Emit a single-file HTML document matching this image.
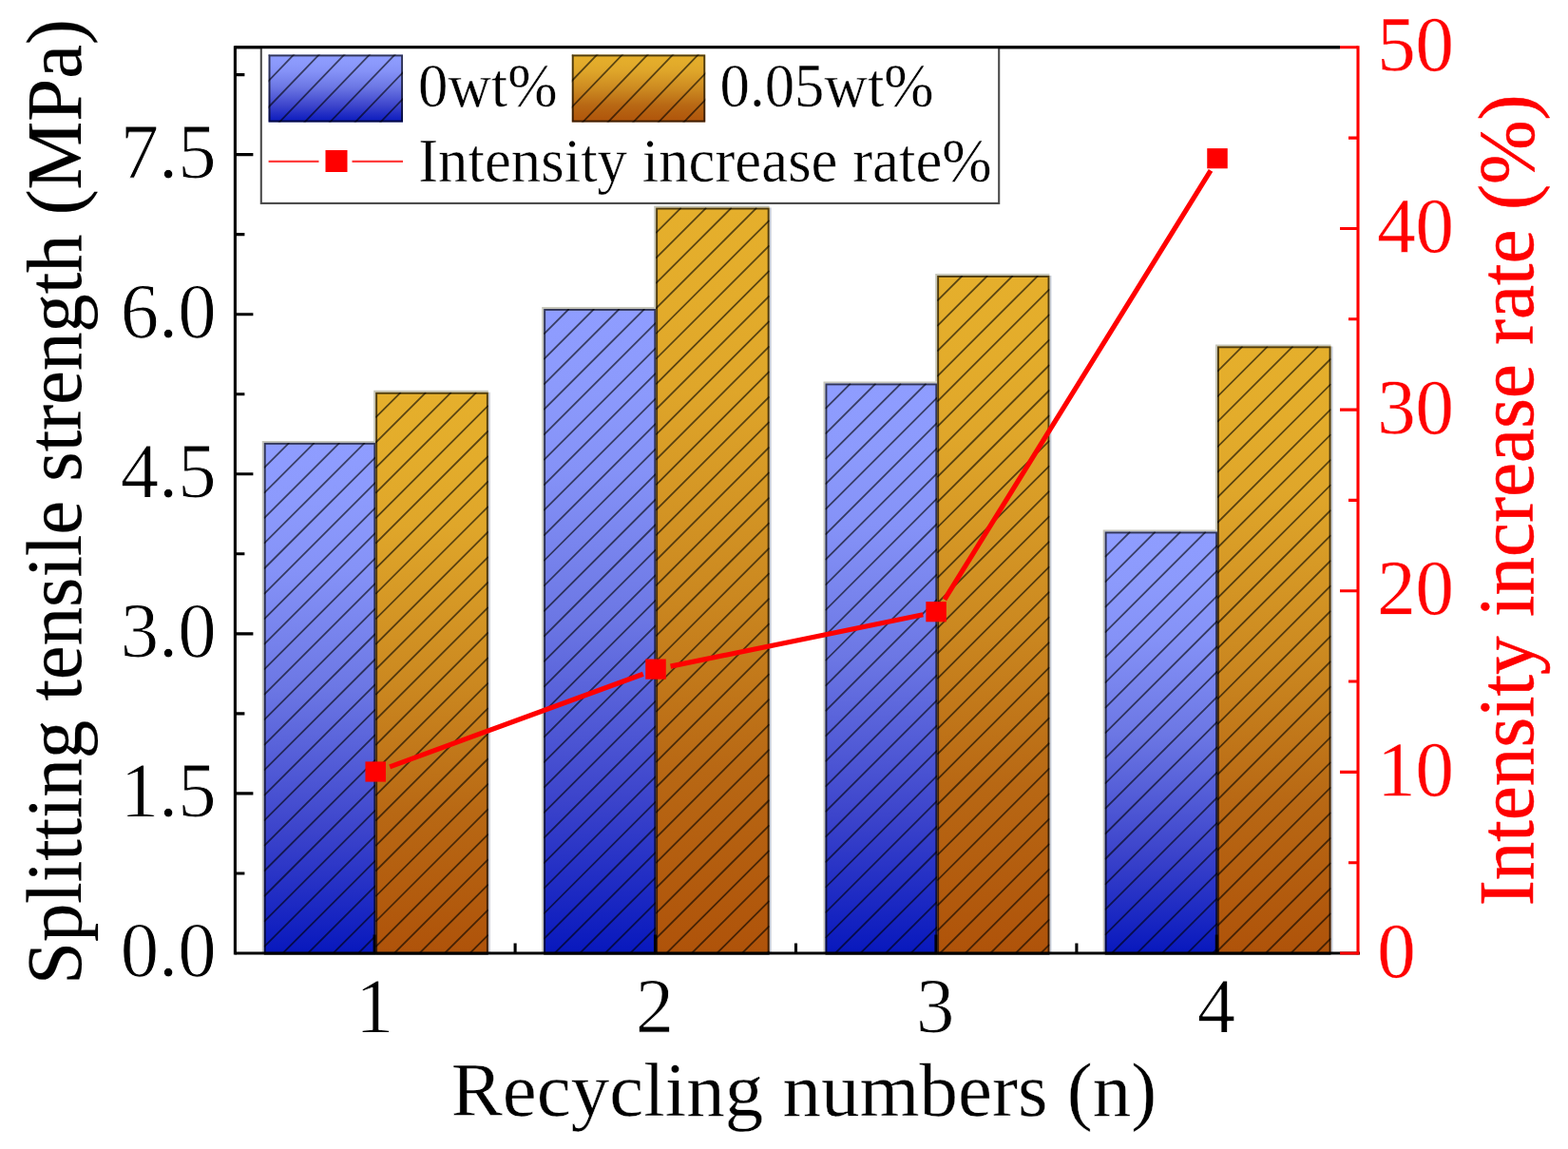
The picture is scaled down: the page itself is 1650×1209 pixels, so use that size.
<!DOCTYPE html>
<html lang="en"><head><meta charset="utf-8">
<title>Splitting tensile strength vs recycling numbers</title>
<style>
html,body{margin:0;padding:0;background:#fff;}
body{width:1650px;height:1209px;overflow:hidden;}
svg{display:block;}
text{font-family:'Liberation Serif', serif;stroke:#fff;stroke-width:0.85px;stroke-linejoin:round;}
text.r{fill:#ff0000;stroke-width:0.35px;}
text.t{stroke:#000;stroke-width:0.2px;}
text.rt{fill:#ff0000;stroke:#ff0000;stroke-width:0.5px;}
text.l{stroke-width:0.45px;}
text.x{stroke-width:0.4px;}
</style></head><body>
<svg width="1650" height="1209" viewBox="0 0 1650 1209">
<defs>
<linearGradient id="gb" x1="0" y1="0" x2="0" y2="1"><stop offset="0" stop-color="rgb(143,157,255)"/><stop offset="0.12" stop-color="rgb(140,154,252)"/><stop offset="0.25" stop-color="rgb(133,146,247)"/><stop offset="0.48" stop-color="rgb(108,119,228)"/><stop offset="0.76" stop-color="rgb(60,68,203)"/><stop offset="1" stop-color="rgb(8,24,189)"/></linearGradient>
<linearGradient id="go" x1="0" y1="0" x2="0" y2="1"><stop offset="0" stop-color="rgb(229,175,44)"/><stop offset="0.12" stop-color="rgb(227,172,43)"/><stop offset="0.24" stop-color="rgb(223,166,42)"/><stop offset="0.52" stop-color="rgb(203,136,32)"/><stop offset="0.75" stop-color="rgb(184,104,20)"/><stop offset="1" stop-color="rgb(175,83,10)"/></linearGradient>
</defs>
<rect x="0" y="0" width="1650" height="1209" fill="#ffffff"/>
<g id="bars">
<path d="M276.8 1003L276.8 464.9L395.2 464.9" fill="none" stroke="rgb(198,198,186)" stroke-width="2"/>
<rect x="277.8" y="465.9" width="117.4" height="537.1" fill="url(#gb)"/>
<clipPath id="c1"><rect x="277.8" y="465.9" width="117.4" height="537.1"/></clipPath>
<path d="M277.8 492.42L304.32 465.9M277.8 518.94L330.84 465.9M277.8 545.46L357.36 465.9M277.8 571.98L383.88 465.9M277.8 598.5L395.2 481.1M277.8 625.02L395.2 507.62M277.8 651.54L395.2 534.14M277.8 678.06L395.2 560.66M277.8 704.58L395.2 587.18M277.8 731.1L395.2 613.7M277.8 757.62L395.2 640.22M277.8 784.14L395.2 666.74M277.8 810.66L395.2 693.26M277.8 837.18L395.2 719.78M277.8 863.7L395.2 746.3M277.8 890.22L395.2 772.82M277.8 916.74L395.2 799.34M277.8 943.26L395.2 825.86M277.8 969.78L395.2 852.38M277.8 996.3L395.2 878.9M297.62 1003L395.2 905.42M324.14 1003L395.2 931.94M350.66 1003L395.2 958.46M377.18 1003L395.2 984.98" clip-path="url(#c1)" stroke="#000" stroke-opacity="0.6" stroke-width="1.8" fill="none"/>
<rect x="278.75" y="466.85" width="115.5" height="537.1" fill="none" stroke="#000" stroke-opacity="0.66" stroke-width="1.9"/>
<path d="M394.2 463.9L394.2 411.8L513.8 411.8" fill="none" stroke="rgb(198,198,186)" stroke-width="2"/>
<path d="M514.8 412.8L514.8 1003" fill="none" stroke="rgb(196,202,214)" stroke-width="2"/>
<rect x="395.2" y="412.8" width="118.6" height="590.2" fill="url(#go)"/>
<clipPath id="c2"><rect x="395.2" y="412.8" width="118.6" height="590.2"/></clipPath>
<path d="M395.2 439.32L421.72 412.8M395.2 465.84L448.24 412.8M395.2 492.36L474.76 412.8M395.2 518.88L501.28 412.8M395.2 545.4L513.8 426.8M395.2 571.92L513.8 453.32M395.2 598.44L513.8 479.84M395.2 624.96L513.8 506.36M395.2 651.48L513.8 532.88M395.2 678L513.8 559.4M395.2 704.52L513.8 585.92M395.2 731.04L513.8 612.44M395.2 757.56L513.8 638.96M395.2 784.08L513.8 665.48M395.2 810.6L513.8 692M395.2 837.12L513.8 718.52M395.2 863.64L513.8 745.04M395.2 890.16L513.8 771.56M395.2 916.68L513.8 798.08M395.2 943.2L513.8 824.6M395.2 969.72L513.8 851.12M395.2 996.24L513.8 877.64M414.96 1003L513.8 904.16M441.48 1003L513.8 930.68M468 1003L513.8 957.2M494.52 1003L513.8 983.72" clip-path="url(#c2)" stroke="#000" stroke-opacity="0.6" stroke-width="1.8" fill="none"/>
<rect x="396.15" y="413.75" width="116.7" height="590.2" fill="none" stroke="#000" stroke-opacity="0.66" stroke-width="1.9"/>
<path d="M571.2 1003L571.2 324L690.2 324" fill="none" stroke="rgb(198,198,186)" stroke-width="2"/>
<rect x="572.2" y="325" width="118" height="678" fill="url(#gb)"/>
<clipPath id="c3"><rect x="572.2" y="325" width="118" height="678"/></clipPath>
<path d="M572.2 351.52L598.72 325M572.2 378.04L625.24 325M572.2 404.56L651.76 325M572.2 431.08L678.28 325M572.2 457.6L690.2 339.6M572.2 484.12L690.2 366.12M572.2 510.64L690.2 392.64M572.2 537.16L690.2 419.16M572.2 563.68L690.2 445.68M572.2 590.2L690.2 472.2M572.2 616.72L690.2 498.72M572.2 643.24L690.2 525.24M572.2 669.76L690.2 551.76M572.2 696.28L690.2 578.28M572.2 722.8L690.2 604.8M572.2 749.32L690.2 631.32M572.2 775.84L690.2 657.84M572.2 802.36L690.2 684.36M572.2 828.88L690.2 710.88M572.2 855.4L690.2 737.4M572.2 881.92L690.2 763.92M572.2 908.44L690.2 790.44M572.2 934.96L690.2 816.96M572.2 961.48L690.2 843.48M572.2 988L690.2 870M583.72 1003L690.2 896.52M610.24 1003L690.2 923.04M636.76 1003L690.2 949.56M663.28 1003L690.2 976.08" clip-path="url(#c3)" stroke="#000" stroke-opacity="0.6" stroke-width="1.8" fill="none"/>
<rect x="573.15" y="325.95" width="116.1" height="678" fill="none" stroke="#000" stroke-opacity="0.66" stroke-width="1.9"/>
<path d="M689.2 323L689.2 217.6L809.6 217.6" fill="none" stroke="rgb(198,198,186)" stroke-width="2"/>
<path d="M810.6 218.6L810.6 1003" fill="none" stroke="rgb(196,202,214)" stroke-width="2"/>
<rect x="690.2" y="218.6" width="119.4" height="784.4" fill="url(#go)"/>
<clipPath id="c4"><rect x="690.2" y="218.6" width="119.4" height="784.4"/></clipPath>
<path d="M690.2 245.12L716.72 218.6M690.2 271.64L743.24 218.6M690.2 298.16L769.76 218.6M690.2 324.68L796.28 218.6M690.2 351.2L809.6 231.8M690.2 377.72L809.6 258.32M690.2 404.24L809.6 284.84M690.2 430.76L809.6 311.36M690.2 457.28L809.6 337.88M690.2 483.8L809.6 364.4M690.2 510.32L809.6 390.92M690.2 536.84L809.6 417.44M690.2 563.36L809.6 443.96M690.2 589.88L809.6 470.48M690.2 616.4L809.6 497M690.2 642.92L809.6 523.52M690.2 669.44L809.6 550.04M690.2 695.96L809.6 576.56M690.2 722.48L809.6 603.08M690.2 749L809.6 629.6M690.2 775.52L809.6 656.12M690.2 802.04L809.6 682.64M690.2 828.56L809.6 709.16M690.2 855.08L809.6 735.68M690.2 881.6L809.6 762.2M690.2 908.12L809.6 788.72M690.2 934.64L809.6 815.24M690.2 961.16L809.6 841.76M690.2 987.68L809.6 868.28M701.4 1003L809.6 894.8M727.92 1003L809.6 921.32M754.44 1003L809.6 947.84M780.96 1003L809.6 974.36M807.48 1003L809.6 1000.88" clip-path="url(#c4)" stroke="#000" stroke-opacity="0.6" stroke-width="1.8" fill="none"/>
<rect x="691.15" y="219.55" width="117.5" height="784.4" fill="none" stroke="#000" stroke-opacity="0.66" stroke-width="1.9"/>
<path d="M867.5 1003L867.5 402.5L986.2 402.5" fill="none" stroke="rgb(198,198,186)" stroke-width="2"/>
<rect x="868.5" y="403.5" width="117.7" height="599.5" fill="url(#gb)"/>
<clipPath id="c5"><rect x="868.5" y="403.5" width="117.7" height="599.5"/></clipPath>
<path d="M868.5 430.02L895.02 403.5M868.5 456.54L921.54 403.5M868.5 483.06L948.06 403.5M868.5 509.58L974.58 403.5M868.5 536.1L986.2 418.4M868.5 562.62L986.2 444.92M868.5 589.14L986.2 471.44M868.5 615.66L986.2 497.96M868.5 642.18L986.2 524.48M868.5 668.7L986.2 551M868.5 695.22L986.2 577.52M868.5 721.74L986.2 604.04M868.5 748.26L986.2 630.56M868.5 774.78L986.2 657.08M868.5 801.3L986.2 683.6M868.5 827.82L986.2 710.12M868.5 854.34L986.2 736.64M868.5 880.86L986.2 763.16M868.5 907.38L986.2 789.68M868.5 933.9L986.2 816.2M868.5 960.42L986.2 842.72M868.5 986.94L986.2 869.24M878.96 1003L986.2 895.76M905.48 1003L986.2 922.28M932 1003L986.2 948.8M958.52 1003L986.2 975.32M985.04 1003L986.2 1001.84" clip-path="url(#c5)" stroke="#000" stroke-opacity="0.6" stroke-width="1.8" fill="none"/>
<rect x="869.45" y="404.45" width="115.8" height="599.5" fill="none" stroke="#000" stroke-opacity="0.66" stroke-width="1.9"/>
<path d="M985.2 401.5L985.2 289L1104.4 289" fill="none" stroke="rgb(198,198,186)" stroke-width="2"/>
<path d="M1105.4 290L1105.4 1003" fill="none" stroke="rgb(196,202,214)" stroke-width="2"/>
<rect x="986.2" y="290" width="118.2" height="713" fill="url(#go)"/>
<clipPath id="c6"><rect x="986.2" y="290" width="118.2" height="713"/></clipPath>
<path d="M986.2 316.52L1012.72 290M986.2 343.04L1039.24 290M986.2 369.56L1065.76 290M986.2 396.08L1092.28 290M986.2 422.6L1104.4 304.4M986.2 449.12L1104.4 330.92M986.2 475.64L1104.4 357.44M986.2 502.16L1104.4 383.96M986.2 528.68L1104.4 410.48M986.2 555.2L1104.4 437M986.2 581.72L1104.4 463.52M986.2 608.24L1104.4 490.04M986.2 634.76L1104.4 516.56M986.2 661.28L1104.4 543.08M986.2 687.8L1104.4 569.6M986.2 714.32L1104.4 596.12M986.2 740.84L1104.4 622.64M986.2 767.36L1104.4 649.16M986.2 793.88L1104.4 675.68M986.2 820.4L1104.4 702.2M986.2 846.92L1104.4 728.72M986.2 873.44L1104.4 755.24M986.2 899.96L1104.4 781.76M986.2 926.48L1104.4 808.28M986.2 953L1104.4 834.8M986.2 979.52L1104.4 861.32M989.24 1003L1104.4 887.84M1015.76 1003L1104.4 914.36M1042.28 1003L1104.4 940.88M1068.8 1003L1104.4 967.4M1095.32 1003L1104.4 993.92" clip-path="url(#c6)" stroke="#000" stroke-opacity="0.6" stroke-width="1.8" fill="none"/>
<rect x="987.15" y="290.95" width="116.3" height="713" fill="none" stroke="#000" stroke-opacity="0.66" stroke-width="1.9"/>
<path d="M1161.7 1003L1161.7 558.5L1281 558.5" fill="none" stroke="rgb(198,198,186)" stroke-width="2"/>
<rect x="1162.7" y="559.5" width="118.3" height="443.5" fill="url(#gb)"/>
<clipPath id="c7"><rect x="1162.7" y="559.5" width="118.3" height="443.5"/></clipPath>
<path d="M1162.7 586.02L1189.22 559.5M1162.7 612.54L1215.74 559.5M1162.7 639.06L1242.26 559.5M1162.7 665.58L1268.78 559.5M1162.7 692.1L1281 573.8M1162.7 718.62L1281 600.32M1162.7 745.14L1281 626.84M1162.7 771.66L1281 653.36M1162.7 798.18L1281 679.88M1162.7 824.7L1281 706.4M1162.7 851.22L1281 732.92M1162.7 877.74L1281 759.44M1162.7 904.26L1281 785.96M1162.7 930.78L1281 812.48M1162.7 957.3L1281 839M1162.7 983.82L1281 865.52M1170.04 1003L1281 892.04M1196.56 1003L1281 918.56M1223.08 1003L1281 945.08M1249.6 1003L1281 971.6M1276.12 1003L1281 998.12" clip-path="url(#c7)" stroke="#000" stroke-opacity="0.6" stroke-width="1.8" fill="none"/>
<rect x="1163.65" y="560.45" width="116.4" height="443.5" fill="none" stroke="#000" stroke-opacity="0.66" stroke-width="1.9"/>
<path d="M1280 557.5L1280 363.4L1400.5 363.4" fill="none" stroke="rgb(198,198,186)" stroke-width="2"/>
<path d="M1401.5 364.4L1401.5 1003" fill="none" stroke="rgb(196,202,214)" stroke-width="2"/>
<rect x="1281" y="364.4" width="119.5" height="638.6" fill="url(#go)"/>
<clipPath id="c8"><rect x="1281" y="364.4" width="119.5" height="638.6"/></clipPath>
<path d="M1281 390.92L1307.52 364.4M1281 417.44L1334.04 364.4M1281 443.96L1360.56 364.4M1281 470.48L1387.08 364.4M1281 497L1400.5 377.5M1281 523.52L1400.5 404.02M1281 550.04L1400.5 430.54M1281 576.56L1400.5 457.06M1281 603.08L1400.5 483.58M1281 629.6L1400.5 510.1M1281 656.12L1400.5 536.62M1281 682.64L1400.5 563.14M1281 709.16L1400.5 589.66M1281 735.68L1400.5 616.18M1281 762.2L1400.5 642.7M1281 788.72L1400.5 669.22M1281 815.24L1400.5 695.74M1281 841.76L1400.5 722.26M1281 868.28L1400.5 748.78M1281 894.8L1400.5 775.3M1281 921.32L1400.5 801.82M1281 947.84L1400.5 828.34M1281 974.36L1400.5 854.86M1281 1000.88L1400.5 881.38M1305.4 1003L1400.5 907.9M1331.92 1003L1400.5 934.42M1358.44 1003L1400.5 960.94M1384.96 1003L1400.5 987.46" clip-path="url(#c8)" stroke="#000" stroke-opacity="0.6" stroke-width="1.8" fill="none"/>
<rect x="1281.95" y="365.35" width="117.6" height="638.6" fill="none" stroke="#000" stroke-opacity="0.66" stroke-width="1.9"/>
</g>
<g id="frame" stroke="#000" stroke-width="3.1" fill="none" stroke-linecap="butt">
<path d="M247.4 48.25L247.4 1004.55"/>
<path d="M247.4 49.8L1410 49.8"/>
<path d="M247.4 1003L1431 1003"/>
<path d="M247.4 918.96L257.4 918.96M247.4 834.92L266.4 834.92M247.4 750.89L257.4 750.89M247.4 666.85L266.4 666.85M247.4 582.81L257.4 582.81M247.4 498.78L266.4 498.78M247.4 414.74L257.4 414.74M247.4 330.7L266.4 330.7M247.4 246.66L257.4 246.66M247.4 162.62L266.4 162.62M247.4 78.59L257.4 78.59"/>
<path d="M394.1 1003L394.1 983.5M689.5 1003L689.5 983.5M984.9 1003L984.9 983.5M1280.3 1003L1280.3 983.5" stroke-opacity="0.85"/>
<path d="M542.1 1003L542.1 992.5M837.5 1003L837.5 992.5M1132.9 1003L1132.9 992.5"/>
</g>
<g id="raxis" stroke="#ff0000" stroke-width="3.1" fill="none">
<path d="M1429 48.25L1429 1004.55"/>
<path d="M1429 1003L1410 1003M1429 907.68L1419 907.68M1429 812.36L1410 812.36M1429 717.04L1419 717.04M1429 621.72L1410 621.72M1429 526.4L1419 526.4M1429 431.08L1410 431.08M1429 335.76L1419 335.76M1429 240.44L1410 240.44M1429 145.12L1419 145.12M1429 49.8L1410 49.8"/>
</g>
<g id="series">
<path d="M410.19 806.84L676.81 709.26M705.6 701.09L971.3 646.71M993.91 630.95L1273.99 179.45" stroke="#ff0000" stroke-width="5.2" fill="none"/>
<rect x="384.45" y="801.4" width="21.5" height="21.2" fill="#ff0000"/>
<rect x="679.25" y="693.5" width="21.5" height="21.2" fill="#ff0000"/>
<rect x="974.35" y="633.1" width="21.5" height="21.2" fill="#ff0000"/>
<rect x="1270.25" y="156.1" width="21.5" height="21.2" fill="#ff0000"/>
</g>
<g id="legend">
<rect x="274.8" y="49.8" width="776.4" height="164.1" fill="#ffffff" stroke="#4a4a4a" stroke-width="2.1"/>
<rect x="282.6" y="57.5" width="141.4" height="71" fill="url(#gb)"/>
<clipPath id="c9"><rect x="282.6" y="57.5" width="141.4" height="71"/></clipPath>
<path d="M205.58 54.5L131.55 131.5M232.18 54.5L158.15 131.5M258.78 54.5L184.75 131.5M285.38 54.5L211.35 131.5M311.98 54.5L237.95 131.5M338.58 54.5L264.55 131.5M365.18 54.5L291.15 131.5M391.78 54.5L317.75 131.5M418.38 54.5L344.35 131.5M444.98 54.5L370.95 131.5M471.58 54.5L397.55 131.5M498.18 54.5L424.15 131.5M524.78 54.5L450.75 131.5M551.38 54.5L477.35 131.5" clip-path="url(#c9)" stroke="#000" stroke-opacity="0.6" stroke-width="1.8" fill="none"/>
<rect x="283.55" y="58.45" width="139.5" height="69.1" fill="none" stroke="#000" stroke-opacity="0.66" stroke-width="1.9"/>
<rect x="601.8" y="57.5" width="140.4" height="71" fill="url(#go)"/>
<clipPath id="c10"><rect x="601.8" y="57.5" width="140.4" height="71"/></clipPath>
<path d="M524.78 54.5L450.75 131.5M551.38 54.5L477.35 131.5M577.98 54.5L503.95 131.5M604.58 54.5L530.55 131.5M631.18 54.5L557.15 131.5M657.78 54.5L583.75 131.5M684.38 54.5L610.35 131.5M710.98 54.5L636.95 131.5M737.58 54.5L663.55 131.5M764.18 54.5L690.15 131.5M790.78 54.5L716.75 131.5M817.38 54.5L743.35 131.5M843.98 54.5L769.95 131.5M870.58 54.5L796.55 131.5" clip-path="url(#c10)" stroke="#000" stroke-opacity="0.6" stroke-width="1.8" fill="none"/>
<rect x="602.75" y="58.45" width="138.5" height="69.1" fill="none" stroke="#000" stroke-opacity="0.66" stroke-width="1.9"/>
<path d="M282.6 169.8L335.5 169.8M370.5 169.8L424 169.8" stroke="#ff3c3c" stroke-width="2.2" fill="none"/>
<rect x="342.5" y="158" width="23" height="23" fill="#ff0000"/>
<g font-size="64.5" fill="#000">
<text class="l" transform="translate(440 112.1) scale(0.974 1)">0wt%</text>
<text class="l" transform="translate(757.6 112.1) scale(0.974 1)">0.05wt%</text>
<text class="l" transform="translate(440.2 191.3) scale(0.974 1)">Intensity increase rate%</text>
</g>
</g>
<path d="M247.4 49.8L1410 49.8" stroke="#000" stroke-width="3.1" fill="none"/>
<g id="ticklabels" font-size="82">
<text transform="translate(227.6 1027.4) scale(0.985 1)" text-anchor="end" fill="#000">0.0</text>
<text transform="translate(227.6 859.32) scale(0.985 1)" text-anchor="end" fill="#000">1.5</text>
<text transform="translate(227.6 691.25) scale(0.985 1)" text-anchor="end" fill="#000">3.0</text>
<text transform="translate(227.6 523.18) scale(0.985 1)" text-anchor="end" fill="#000">4.5</text>
<text transform="translate(227.6 355.1) scale(0.985 1)" text-anchor="end" fill="#000">6.0</text>
<text transform="translate(227.6 187.03) scale(0.985 1)" text-anchor="end" fill="#000">7.5</text>
<text transform="translate(1449.2 1027.5) scale(0.98 1)" text-anchor="start" class="r" font-size="82.5">0</text>
<text transform="translate(1449.2 836.86) scale(0.98 1)" text-anchor="start" class="r" font-size="82.5">10</text>
<text transform="translate(1449.2 646.22) scale(0.98 1)" text-anchor="start" class="r" font-size="82.5">20</text>
<text transform="translate(1449.2 455.58) scale(0.98 1)" text-anchor="start" class="r" font-size="82.5">30</text>
<text transform="translate(1449.2 264.94) scale(0.98 1)" text-anchor="start" class="r" font-size="82.5">40</text>
<text transform="translate(1449.2 74.3) scale(0.98 1)" text-anchor="start" class="r" font-size="82.5">50</text>
<text transform="translate(394.2 1086.2) scale(0.985 1)" text-anchor="middle" fill="#000">1</text>
<text transform="translate(689 1086.2) scale(0.985 1)" text-anchor="middle" fill="#000">2</text>
<text transform="translate(984.1 1086.2) scale(0.985 1)" text-anchor="middle" fill="#000">3</text>
<text transform="translate(1280 1086.2) scale(0.985 1)" text-anchor="middle" fill="#000">4</text>
</g>
<g id="titles" font-size="81">
<text class="x" x="846" y="1174.2" text-anchor="middle" fill="#000">Recycling numbers (n)</text>
<text class="t" transform="translate(84.8 528) rotate(-90) scale(0.973 1)" font-size="83" text-anchor="middle" fill="#000">Splitting tensile strength (MPa)</text>
<text transform="translate(1612.6 526.4) rotate(-90) scale(0.972 1)" font-size="83.5" class="rt" text-anchor="middle">Intensity increase rate (%)</text>
</g>
</svg>
</body></html>
